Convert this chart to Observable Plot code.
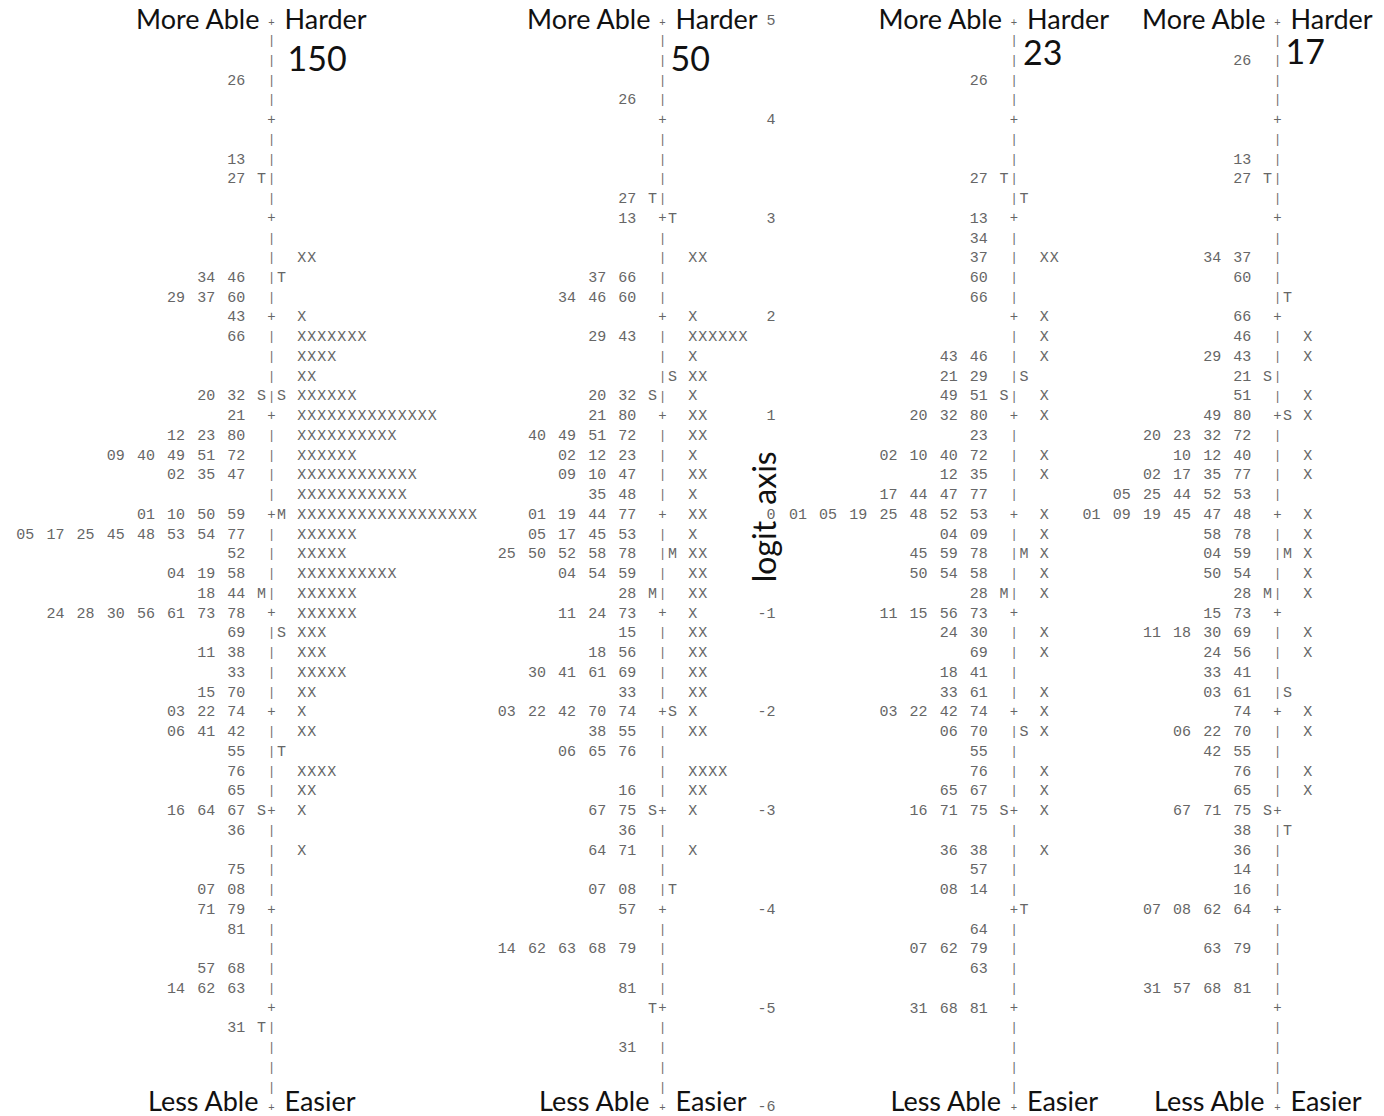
<!DOCTYPE html>
<html>
<head>
<meta charset="utf-8">
<script src="https://cdn.jsdelivr.net/npm/d3@7"></script>
<script src="https://cdn.jsdelivr.net/npm/@observablehq/plot@0.6"></script>
<style>
  html, body { margin: 0; padding: 0; background: #fff; }
  svg { display: block; }
</style>
</head>
<body>
<script>
// ---------------- DATA ----------------
// sample size of each panel
const sampleSizes = ["150", "50", "23", "17"];

// row logits of the text map (0.2 logit per row)
const rowLogits = [4.8, 4.6, 4.4, 4.2, 4.0, 3.8, 3.6, 3.4, 3.2, 3.0, 2.8, 2.6, 2.4, 2.2, 2.0, 1.8, 1.6, 1.4, 1.2, 1.0,
  0.8, 0.6, 0.4, 0.2, 0.0, -0.2, -0.4, -0.6, -0.8, -1.0, -1.2, -1.4, -1.6, -1.8, -2.0, -2.2, -2.4, -2.6, -2.8, -3.0,
  -3.2, -3.4, -3.6, -3.8, -4.0, -4.2, -4.4, -4.6, -4.8, -5.0, -5.2, -5.4, -5.6, -5.8];

// logit axis tick labels
const logitTicks = [5, 4, 3, 2, 1, 0, -1, -2, -3, -4, -5, -6];

// ---- panel 1 (N = 150)
const items150 = [[4.4,"26"],[3.6,"13"],[3.4,"27"],[2.4,"34 46"],[2.2,"29 37 60"],[2.0,"43"],[1.8,"66"],
  [1.2,"20 32"],[1.0,"21"],[0.8,"12 23 80"],[0.6,"09 40 49 51 72"],[0.4,"02 35 47"],[0.0,"01 10 50 59"],
  [-0.2,"05 17 25 45 48 53 54 77"],[-0.4,"52"],[-0.6,"04 19 58"],[-0.8,"18 44"],[-1.0,"24 28 30 56 61 73 78"],
  [-1.2,"69"],[-1.4,"11 38"],[-1.6,"33"],[-1.8,"15 70"],[-2.0,"03 22 74"],[-2.2,"06 41 42"],[-2.4,"55"],
  [-2.6,"76"],[-2.8,"65"],[-3.0,"16 64 67"],[-3.2,"36"],[-3.6,"75"],[-3.8,"07 08"],[-4.0,"71 79"],[-4.2,"81"],
  [-4.6,"57 68"],[-4.8,"14 62 63"],[-5.2,"31"]];
const persons150 = [[2.6,2],[2.0,1],[1.8,7],[1.6,4],[1.4,2],[1.2,6],[1.0,14],[0.8,10],[0.6,6],[0.4,12],[0.2,11],
  [0.0,18],[-0.2,6],[-0.4,5],[-0.6,10],[-0.8,6],[-1.0,6],[-1.2,3],[-1.4,3],[-1.6,5],[-1.8,2],[-2.0,1],[-2.2,2],
  [-2.6,4],[-2.8,2],[-3.0,1],[-3.4,1]];
const leftMarks150 = [[3.4,"T"],[1.2,"S"],[-0.8,"M"],[-3.0,"S"],[-5.2,"T"]];
const rightMarks150 = [[2.4,"T"],[1.2,"S"],[0.0,"M"],[-1.2,"S"],[-2.4,"T"]];

// ---- panel 2 (N = 50)
const items50 = [[4.2,"26"],[3.2,"27"],[3.0,"13"],[2.4,"37 66"],[2.2,"34 46 60"],[1.8,"29 43"],[1.2,"20 32"],
  [1.0,"21 80"],[0.8,"40 49 51 72"],[0.6,"02 12 23"],[0.4,"09 10 47"],[0.2,"35 48"],[0.0,"01 19 44 77"],
  [-0.2,"05 17 45 53"],[-0.4,"25 50 52 58 78"],[-0.6,"04 54 59"],[-0.8,"28"],[-1.0,"11 24 73"],[-1.2,"15"],
  [-1.4,"18 56"],[-1.6,"30 41 61 69"],[-1.8,"33"],[-2.0,"03 22 42 70 74"],[-2.2,"38 55"],[-2.4,"06 65 76"],
  [-2.8,"16"],[-3.0,"67 75"],[-3.2,"36"],[-3.4,"64 71"],[-3.8,"07 08"],[-4.0,"57"],[-4.4,"14 62 63 68 79"],
  [-4.8,"81"],[-5.4,"31"]];
const persons50 = [[2.6,2],[2.0,1],[1.8,6],[1.6,1],[1.4,2],[1.2,1],[1.0,2],[0.8,2],[0.6,1],[0.4,2],[0.2,1],
  [0.0,2],[-0.2,1],[-0.4,2],[-0.6,2],[-0.8,2],[-1.0,1],[-1.2,2],[-1.4,2],[-1.6,2],[-1.8,2],[-2.0,1],[-2.2,2],
  [-2.6,4],[-2.8,2],[-3.0,1],[-3.4,1]];
const leftMarks50 = [[3.2,"T"],[1.2,"S"],[-0.8,"M"],[-3.0,"S"],[-5.0,"T"]];
const rightMarks50 = [[3.0,"T"],[1.4,"S"],[-0.4,"M"],[-2.0,"S"],[-3.8,"T"]];

// ---- panel 3 (N = 23)
const items23 = [[4.4,"26"],[3.4,"27"],[3.0,"13"],[2.8,"34"],[2.6,"37"],[2.4,"60"],[2.2,"66"],[1.6,"43 46"],
  [1.4,"21 29"],[1.2,"49 51"],[1.0,"20 32 80"],[0.8,"23"],[0.6,"02 10 40 72"],[0.4,"12 35"],[0.2,"17 44 47 77"],
  [0.0,"01 05 19 25 48 52 53"],[-0.2,"04 09"],[-0.4,"45 59 78"],[-0.6,"50 54 58"],[-0.8,"28"],[-1.0,"11 15 56 73"],
  [-1.2,"24 30"],[-1.4,"69"],[-1.6,"18 41"],[-1.8,"33 61"],[-2.0,"03 22 42 74"],[-2.2,"06 70"],[-2.4,"55"],
  [-2.6,"76"],[-2.8,"65 67"],[-3.0,"16 71 75"],[-3.4,"36 38"],[-3.6,"57"],[-3.8,"08 14"],[-4.2,"64"],
  [-4.4,"07 62 79"],[-4.6,"63"],[-5.0,"31 68 81"]];
const persons23 = [[2.6,2],[2.0,1],[1.8,1],[1.6,1],[1.2,1],[1.0,1],[0.6,1],[0.4,1],[0.0,1],[-0.2,1],[-0.4,1],
  [-0.6,1],[-0.8,1],[-1.2,1],[-1.4,1],[-1.8,1],[-2.0,1],[-2.2,1],[-2.6,1],[-2.8,1],[-3.0,1],[-3.4,1]];
const leftMarks23 = [[3.4,"T"],[1.2,"S"],[-0.8,"M"],[-3.0,"S"]];
const rightMarks23 = [[3.2,"T"],[1.4,"S"],[-0.4,"M"],[-2.2,"S"],[-4.0,"T"]];

// ---- panel 4 (N = 17)
const items17 = [[4.6,"26"],[3.6,"13"],[3.4,"27"],[2.6,"34 37"],[2.4,"60"],[2.0,"66"],[1.8,"46"],[1.6,"29 43"],
  [1.4,"21"],[1.2,"51"],[1.0,"49 80"],[0.8,"20 23 32 72"],[0.6,"10 12 40"],[0.4,"02 17 35 77"],
  [0.2,"05 25 44 52 53"],[0.0,"01 09 19 45 47 48"],[-0.2,"58 78"],[-0.4,"04 59"],[-0.6,"50 54"],[-0.8,"28"],
  [-1.0,"15 73"],[-1.2,"11 18 30 69"],[-1.4,"24 56"],[-1.6,"33 41"],[-1.8,"03 61"],[-2.0,"74"],[-2.2,"06 22 70"],
  [-2.4,"42 55"],[-2.6,"76"],[-2.8,"65"],[-3.0,"67 71 75"],[-3.2,"38"],[-3.4,"36"],[-3.6,"14"],[-3.8,"16"],
  [-4.0,"07 08 62 64"],[-4.4,"63 79"],[-4.8,"31 57 68 81"]];
const persons17 = [[1.8,1],[1.6,1],[1.2,1],[1.0,1],[0.6,1],[0.4,1],[0.0,1],[-0.2,1],[-0.4,1],[-0.6,1],[-0.8,1],
  [-1.2,1],[-1.4,1],[-2.0,1],[-2.2,1],[-2.6,1],[-2.8,1]];
const leftMarks17 = [[3.4,"T"],[1.4,"S"],[-0.8,"M"],[-3.0,"S"]];
const rightMarks17 = [[2.2,"T"],[1.0,"S"],[-0.4,"M"],[-1.8,"S"],[-3.2,"T"]];

const headerLeft = "More Able", headerRight = "Harder";
const footerLeft = "Less Able", footerRight = "Easier";
const axisTitle = "logit axis";

// ---------------- LAYOUT ----------------
const cw = 10.05;                         // monospace character cell width (px)
const axisPx = [271, 662, 1013.5, 1277];  // x of each panel's "|" column
const sizeOffset = [16, 8, 9, 8];         // big N label offset from axis
const sizeY = [4.6, 4.6, 4.66, 4.67];
const tickRight = 775;
const mono = "'Liberation Mono', 'DejaVu Sans Mono', monospace";
const sans = "Lato, 'Noto Sans', sans-serif";
const gray = "#666";

const panels = [
  {items: items150, persons: persons150, L: leftMarks150, R: rightMarks150},
  {items: items50, persons: persons50, L: leftMarks50, R: rightMarks50},
  {items: items23, persons: persons23, L: leftMarks23, R: rightMarks23},
  {items: items17, persons: persons17, L: leftMarks17, R: rightMarks17}
];

const tokens = [], xs = [], marks = [], bars = [], pluses = [], heads = [];
panels.forEach((p, k) => {
  const ax = axisPx[k];
  for (const [l, s] of p.items) {
    const t = s.split(" ");
    t.forEach((tok, i) => {
      const j = t.length - 1 - i;
      tokens.push({x: ax - (3.5 + 3 * j) * cw, y: l, text: tok});
    });
  }
  for (const [l, n] of p.persons) {
    for (let i = 0; i < n; i++) xs.push({x: ax + (3 + i) * cw, y: l, text: "X"});
  }
  for (const [l, m] of p.L) marks.push({x: ax - cw, y: l, text: m});
  for (const [l, m] of p.R) marks.push({x: ax + cw, y: l, text: m});
  for (const l of rowLogits) {
    const isInt = Math.abs(l - Math.round(l)) < 1e-6;
    (isInt ? pluses : bars).push({x: ax, y: l, text: isInt ? "+" : "|"});
  }
  heads.push({ax, n: sampleSizes[k], off: sizeOffset[k], sy: sizeY[k]});
});

const chart = Plot.plot({
  width: 1384,
  height: 1116,
  margin: 0,
  x: {domain: [0, 1384], range: [0, 1384], axis: null},
  y: {domain: [5, -6], range: [20, 1106], axis: null},
  style: {background: "#fff"},
  marks: [
    Plot.text(bars, {x: "x", y: "y", text: "text", fontFamily: mono, fontSize: 12, fill: gray}),
    Plot.text(pluses, {x: "x", y: "y", text: "text", fontFamily: mono, fontSize: 14, fill: gray}),
    Plot.text(tokens, {x: "x", y: "y", text: "text", fontFamily: mono, fontSize: 15, fill: gray}),
    Plot.text(xs, {x: "x", y: "y", text: "text", fontFamily: mono, fontSize: 15, fill: gray}),
    Plot.text(marks, {x: "x", y: "y", text: "text", fontFamily: mono, fontSize: 15, fill: gray}),
    // headers
    Plot.text(heads, {x: d => d.ax - 12, y: () => 5, text: () => headerLeft, textAnchor: "end", fontFamily: sans, fontSize: 27, fill: "#111"}),
    Plot.text(heads, {x: d => d.ax + 13, y: () => 5, text: () => headerRight, textAnchor: "start", fontFamily: sans, fontSize: 27, fill: "#111"}),
    Plot.text(heads, {x: d => d.ax, y: () => 5, dy: 2, text: () => "+", fontFamily: sans, fontSize: 11, fill: gray}),
    // footers
    Plot.text(heads, {x: d => d.ax - 13, y: () => -6, dy: -4, text: () => footerLeft, textAnchor: "end", fontFamily: sans, fontSize: 27, fill: "#111"}),
    Plot.text(heads, {x: d => d.ax + 13, y: () => -6, dy: -4, text: () => footerRight, textAnchor: "start", fontFamily: sans, fontSize: 27, fill: "#111"}),
    Plot.text(heads, {x: d => d.ax, y: () => -6, dy: 1, text: () => "+", fontFamily: sans, fontSize: 11, fill: gray}),
    // sample sizes
    Plot.text(heads, {x: d => d.ax + d.off, y: "sy", text: "n", textAnchor: "start", fontFamily: sans, fontSize: 34, fill: "#111"}),
    // logit ticks
    Plot.text(logitTicks, {x: () => tickRight, y: d => d, text: d => String(d), textAnchor: "end", fontFamily: mono, fontSize: 15, fill: gray}),
    // axis title
    Plot.text([axisTitle], {x: () => 765, y: () => -0.69, text: d => d, rotate: -90, textAnchor: "start", fontFamily: sans, fontSize: 32, fill: "#111", className: "logit-title"})
  ]
});
document.body.appendChild(chart);
// widen the word gap so the "0" tick sits between the two words, as in the original
d3.select(chart).selectAll(".logit-title text").style("word-spacing", "8px");
</script>
</body>
</html>
